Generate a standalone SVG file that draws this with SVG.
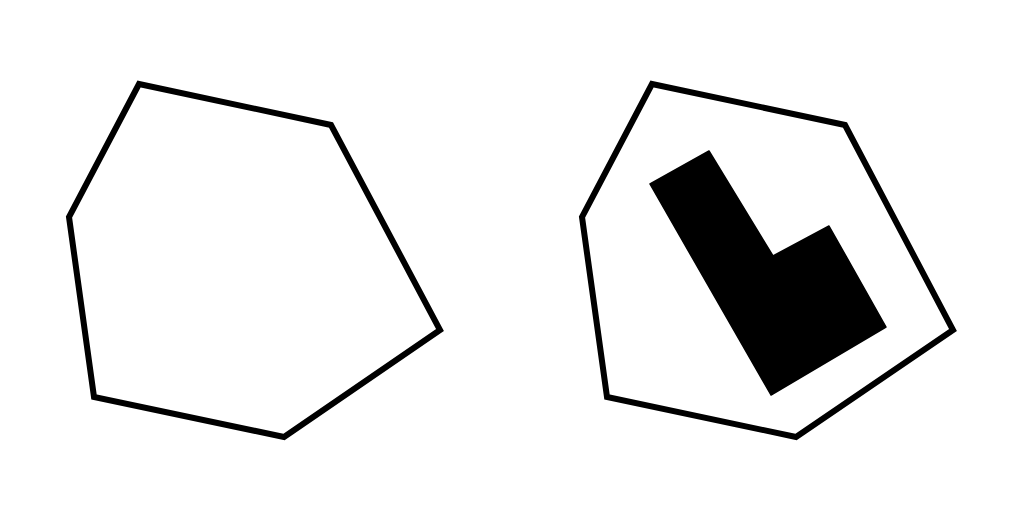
<svg xmlns="http://www.w3.org/2000/svg" width="1024" height="512" viewBox="0 0 1024 512">
<style>
.hex{fill:none;stroke:#000;stroke-width:6;stroke-linejoin:miter}
.solid{fill:#000;stroke:#000;stroke-width:1.5;stroke-linejoin:round}
</style>
<rect width="1024" height="512" fill="#fff"/>
<g id="left-polygon">
<polygon class="hex" points="139,84 331,125 440,330 284,437 94,397 69,217"/>
</g>
<g id="right-polygon">
<polygon class="hex" points="652,84 845,125 953,330 796,437 607,397 582,217"/>
</g>
<g id="l-shape">
<polygon class="solid" points="650,184 709,151 773,256 829,226 886,327 771,395"/>
</g>
</svg>
